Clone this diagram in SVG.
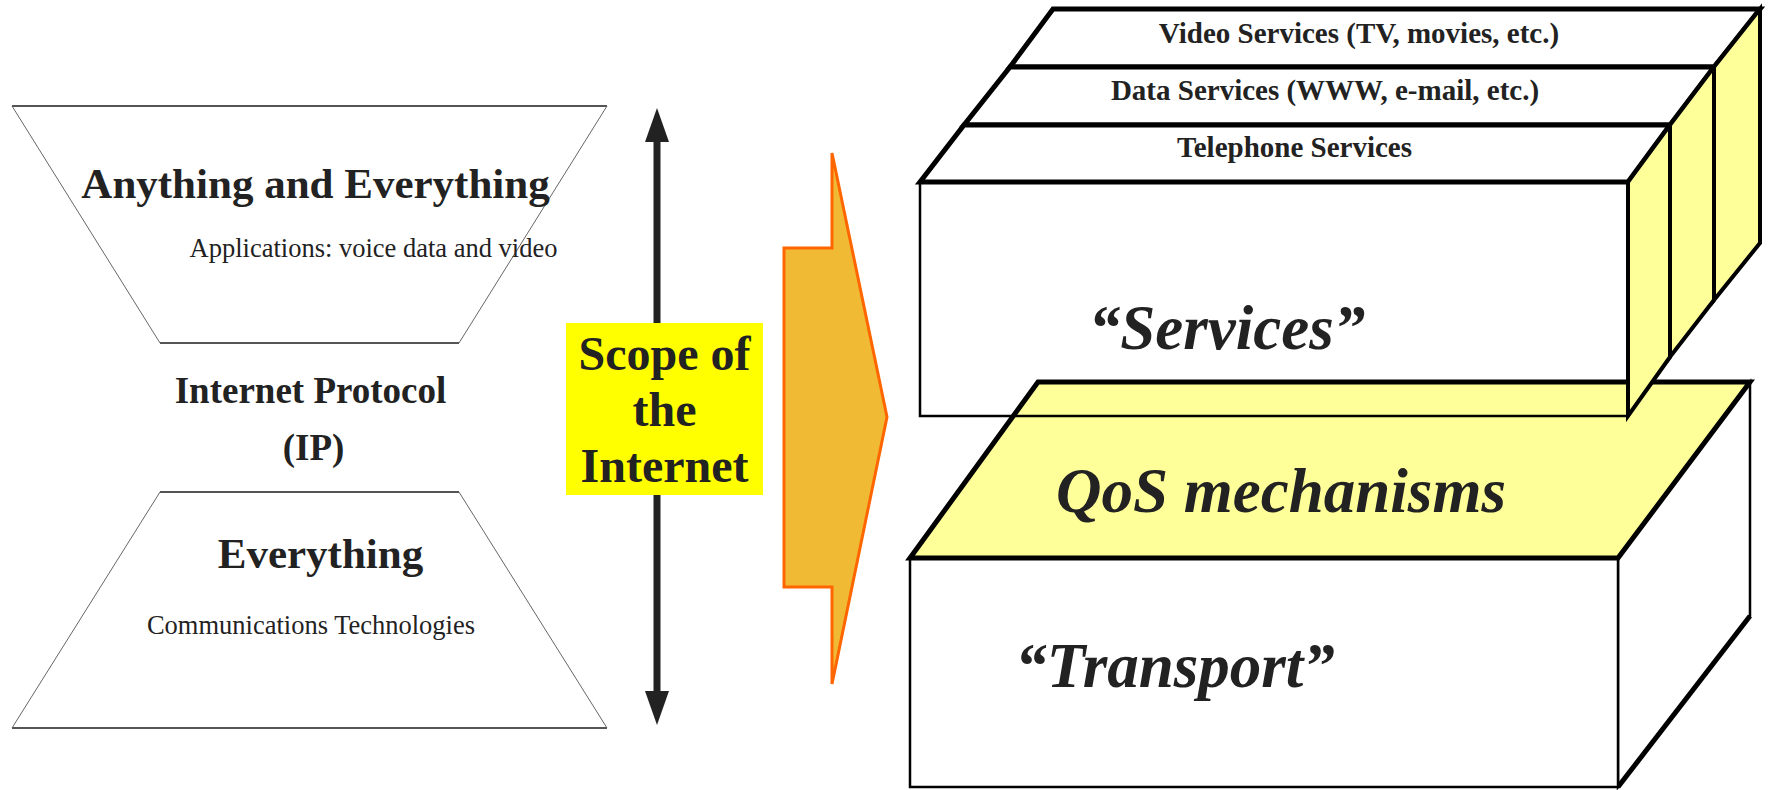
<svg xmlns="http://www.w3.org/2000/svg" width="1769" height="790" viewBox="0 0 1769 790">
  <style>
    .bg { fill: #ffffff; }
    .t { font-family: "Liberation Serif", "Times New Roman", serif; fill: #222222; text-anchor: middle; }
    .b { font-weight: bold; }
    .bi { font-weight: bold; font-style: italic; }
    .edge { stroke: #555555; stroke-width: 1.8; fill: none; }
    .slant { stroke: #666666; stroke-width: 1; fill: none; }
    .lid { fill: #ffffff; stroke: #000000; stroke-width: 5; stroke-linejoin: miter; }
    .side { fill: #ffff99; stroke: #000000; stroke-width: 4; stroke-linejoin: miter; }
    .face { fill: #ffffff; stroke: #000000; stroke-width: 2.5; }
  </style>
  <defs>
    <marker id="head" markerUnits="userSpaceOnUse" markerWidth="36" markerHeight="26" refX="1" refY="12" orient="auto-start-reverse">
      <path d="M0,0 L34,12 L0,24 Z" fill="#222222"/>
    </marker>
  </defs>

  <rect class="bg" x="0" y="0" width="1769" height="790"/>

  <!-- upper funnel: applications -->
  <g id="applications">
    <line class="edge" x1="12" y1="106" x2="607" y2="106"/>
    <line class="edge" x1="160" y1="343" x2="459" y2="343"/>
    <line class="slant" x1="12" y1="106" x2="160" y2="343"/>
    <line class="slant" x1="607" y1="106" x2="459" y2="343"/>
    <text class="t b" x="315.5" y="198" font-size="43">Anything and Everything</text>
    <text class="t" x="373.5" y="257" font-size="26.5">Applications: voice data and video</text>
  </g>

  <!-- waist: IP -->
  <g id="ip">
    <text class="t b" x="310.5" y="403" font-size="37">Internet Protocol</text>
    <text class="t b" x="313.5" y="460" font-size="37">(IP)</text>
  </g>

  <!-- lower funnel: technologies -->
  <g id="technologies">
    <line class="edge" x1="160" y1="492" x2="459" y2="492"/>
    <line class="edge" x1="12" y1="728" x2="607" y2="728"/>
    <line class="slant" x1="160" y1="492" x2="12" y2="728"/>
    <line class="slant" x1="459" y1="492" x2="607" y2="728"/>
    <text class="t b" x="320.5" y="568" font-size="43">Everything</text>
    <text class="t" x="311" y="634" font-size="26.5">Communications Technologies</text>
  </g>

  <!-- connectors -->
  <g id="connectors">
    <line x1="657" y1="141" x2="657" y2="692" stroke="#222222" stroke-width="7" marker-start="url(#head)" marker-end="url(#head)"/>
  </g>

  <!-- scope label -->
  <g id="scope">
    <rect x="566" y="323" width="197" height="172" fill="#ffff00"/>
    <text class="t b" x="664.5" y="370" font-size="48">Scope of</text>
    <text class="t b" x="664.5" y="426" font-size="48">the</text>
    <text class="t b" x="664.5" y="482" font-size="48">Internet</text>
  </g>

  <!-- big block arrow -->
  <g id="block-arrow">
    <polygon points="784,248 832,248 832,153 887,417 832,684 832,587 784,587" fill="#f0ba35" stroke="#ff6600" stroke-width="3" stroke-linejoin="miter"/>
  </g>

  <!-- services stack -->
  <g id="services">
    <rect x="920" y="182" width="708" height="234" fill="#ffffff"/>
    <polygon class="lid" points="1053,9 1760,9 1714,67 1010,67"/>
    <polygon class="lid" points="1010,67 1714,67 1670,125 964,125"/>
    <polygon class="lid" points="964,125 1670,125 1628,182 920,182"/>
    <text class="t b" x="1359" y="43" font-size="29">Video Services (TV, movies, etc.)</text>
    <text class="t b" x="1325" y="100" font-size="29">Data Services (WWW, e-mail, etc.)</text>
    <text class="t b" x="1294.5" y="157" font-size="29">Telephone Services</text>
  </g>

  <!-- QoS / transport block -->
  <g id="transport">
    <polygon class="face" points="1618,558 1750,382 1750,616 1618,787"/>
    <line x1="1618" y1="787" x2="1750" y2="616" stroke="#000000" stroke-width="5"/>
    <rect class="face" x="910" y="558" width="708" height="229"/>
    <polygon points="1038,382 1750,382 1618,558 910,558" fill="#ffff99" stroke="#000000" stroke-width="5" stroke-linejoin="miter"/>
    <text class="t bi" x="1281" y="512" font-size="63">QoS mechanisms</text>
    <text class="t bi" x="1175" y="687" font-size="63">“Transport”</text>
  </g>

  <!-- services side strips and front outline, over the QoS lid -->
  <g id="services-front">
    <polygon class="side" points="1714,67 1760,9 1760,243 1714,300"/>
    <polygon class="side" points="1670,125 1714,67 1714,300 1670,357"/>
    <polygon class="side" points="1628,182 1670,125 1670,357 1628,416"/>
    <rect x="920" y="182" width="708" height="234" fill="none" stroke="#000000" stroke-width="2.5"/>
    <text class="t bi" x="1227" y="349" font-size="63">“Services”</text>
  </g>
</svg>
